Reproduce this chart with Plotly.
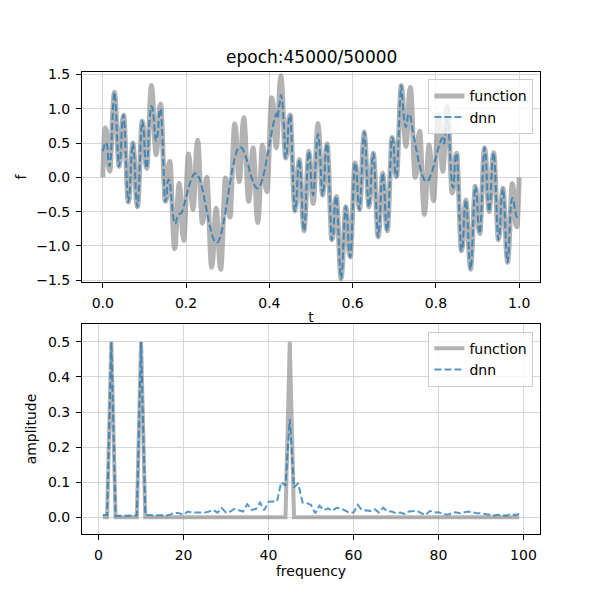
"""
Training snapshot of a DNN fitting a three-tone signal: time domain and spectrum.
"""

import plotly.graph_objects as go

TITLE = "epoch:45000/50000"

# time domain, sampled every 1/360 of the unit interval, t = 0 ... 1
T_START = 0.0
T_STEP = 1 / 360

f_function = [
    0.00, 0.47, 0.72, 0.68, 0.43, 0.16, 0.09, 0.30, 0.70, 1.08,
    1.24, 1.10, 0.73, 0.34, 0.16, 0.25, 0.54, 0.83, 0.91, 0.69,
    0.26, -0.16, -0.36, -0.27, 0.04, 0.37, 0.50, 0.35, 0.01, -0.33,
    -0.43, -0.24, 0.18, 0.60, 0.82, 0.75, 0.48, 0.20, 0.13, 0.34,
    0.75, 1.16, 1.34, 1.21, 0.86, 0.50, 0.33, 0.43, 0.73, 1.01,
    1.07, 0.83, 0.37, -0.09, -0.35, -0.31, -0.07, 0.18, 0.23, 0.00,
    -0.43, -0.85, -1.04, -0.93, -0.60, -0.25, -0.09, -0.21, -0.52, -0.83,
    -0.92, -0.71, -0.29, 0.13, 0.34, 0.25, -0.05, -0.36, -0.47, -0.30,
    0.06, 0.41, 0.54, 0.36, -0.04, -0.45, -0.67, -0.60, -0.33, -0.06,
    0.00, -0.23, -0.67, -1.10, -1.31, -1.22, -0.91, -0.58, -0.45, -0.59,
    -0.93, -1.24, -1.34, -1.13, -0.69, -0.25, -0.01, -0.05, -0.29, -0.54,
    -0.58, -0.33, 0.12, 0.56, 0.78, 0.70, 0.39, 0.07, -0.06, 0.09,
    0.43, 0.76, 0.87, 0.68, 0.28, -0.14, -0.35, -0.26, 0.03, 0.33,
    0.43, 0.24, -0.14, -0.51, -0.66, -0.50, -0.12, 0.27, 0.47, 0.39,
    0.11, -0.16, -0.21, 0.03, 0.48, 0.92, 1.16, 1.10, 0.82, 0.53,
    0.43, 0.62, 0.99, 1.35, 1.48, 1.31, 0.91, 0.50, 0.28, 0.34,
    0.60, 0.86, 0.91, 0.66, 0.20, -0.25, -0.49, -0.42, -0.14, 0.16,
    0.26, 0.08, -0.29, -0.65, -0.78, -0.61, -0.22, 0.18, 0.38, 0.29,
    0.00, -0.29, -0.38, -0.18, 0.22, 0.61, 0.78, 0.65, 0.29, -0.08,
    -0.26, -0.16, 0.14, 0.42, 0.49, 0.25, -0.20, -0.66, -0.91, -0.86,
    -0.60, -0.34, -0.28, -0.50, -0.91, -1.31, -1.48, -1.35, -0.99, -0.62,
    -0.43, -0.53, -0.82, -1.10, -1.16, -0.92, -0.48, -0.03, 0.21, 0.16,
    -0.11, -0.39, -0.47, -0.27, 0.12, 0.50, 0.66, 0.51, 0.14, -0.24,
    -0.43, -0.33, -0.03, 0.26, 0.35, 0.14, -0.28, -0.68, -0.87, -0.76,
    -0.43, -0.09, 0.06, -0.07, -0.39, -0.70, -0.78, -0.56, -0.12, 0.33,
    0.58, 0.54, 0.29, 0.05, 0.01, 0.25, 0.69, 1.13, 1.34, 1.24,
    0.93, 0.59, 0.45, 0.58, 0.91, 1.22, 1.31, 1.10, 0.67, 0.23,
    0.00, 0.06, 0.33, 0.60, 0.67, 0.45, 0.04, -0.36, -0.54, -0.41,
    -0.06, 0.30, 0.47, 0.36, 0.05, -0.25, -0.34, -0.13, 0.29, 0.71,
    0.92, 0.83, 0.52, 0.21, 0.09, 0.25, 0.60, 0.93, 1.04, 0.85,
    0.43, 0.00, -0.23, -0.18, 0.07, 0.31, 0.35, 0.09, -0.37, -0.83,
    -1.07, -1.01, -0.73, -0.43, -0.33, -0.50, -0.86, -1.21, -1.34, -1.16,
    -0.75, -0.34, -0.13, -0.20, -0.48, -0.75, -0.82, -0.60, -0.18, 0.24,
    0.43, 0.33, -0.01, -0.35, -0.50, -0.37, -0.04, 0.27, 0.36, 0.16,
    -0.26, -0.69, -0.91, -0.83, -0.54, -0.25, -0.16, -0.34, -0.73, -1.10,
    -1.24, -1.08, -0.70, -0.30, -0.09, -0.16, -0.43, -0.68, -0.72, -0.47,
    0.00,
]

f_dnn = [
    0.38, 0.44, 0.50, 0.50, 0.43, 0.21, 0.16, 0.32, 0.70, 1.08,
    1.24, 1.10, 0.73, 0.34, 0.16, 0.25, 0.54, 0.83, 0.91, 0.69,
    0.26, -0.16, -0.36, -0.27, 0.04, 0.37, 0.50, 0.35, 0.01, -0.33,
    -0.43, -0.24, 0.18, 0.60, 0.82, 0.75, 0.48, 0.20, 0.13, 0.34,
    0.75, 0.94, 1.04, 1.00, 0.86, 0.64, 0.53, 0.58, 0.73, 0.96,
    1.00, 0.78, 0.37, -0.09, -0.35, -0.31, -0.07, -0.03, -0.07, -0.25,
    -0.43, -0.59, -0.67, -0.67, -0.60, -0.56, -0.54, -0.53, -0.52, -0.48,
    -0.42, -0.36, -0.29, -0.23, -0.16, -0.10, -0.05, -0.01, 0.03, 0.05,
    0.06, 0.05, 0.04, 0.00, -0.04, -0.10, -0.17, -0.24, -0.33, -0.41,
    -0.50, -0.59, -0.67, -0.74, -0.81, -0.87, -0.91, -0.94, -0.95, -0.95,
    -0.93, -0.89, -0.84, -0.77, -0.69, -0.60, -0.51, -0.40, -0.29, -0.19,
    -0.08, 0.02, 0.12, 0.20, 0.28, 0.34, 0.39, 0.42, 0.44, 0.44,
    0.43, 0.41, 0.37, 0.33, 0.28, 0.22, 0.16, 0.09, 0.03, -0.02,
    -0.07, -0.11, -0.14, -0.16, -0.16, -0.15, -0.12, -0.08, -0.03, 0.04,
    0.11, 0.20, 0.29, 0.38, 0.48, 0.57, 0.66, 0.74, 0.82, 0.88,
    0.93, 0.86, 0.99, 1.10, 1.20, 1.13, 0.91, 0.58, 0.28, 0.34,
    0.60, 0.86, 0.91, 0.66, 0.20, -0.25, -0.49, -0.42, -0.14, 0.16,
    0.26, 0.08, -0.29, -0.65, -0.78, -0.61, -0.22, 0.18, 0.38, 0.29,
    0.00, -0.21, -0.26, -0.10, 0.22, 0.50, 0.63, 0.54, 0.29, -0.08,
    -0.26, -0.16, 0.14, 0.42, 0.49, 0.25, -0.20, -0.66, -0.91, -0.86,
    -0.60, -0.34, -0.28, -0.50, -0.91, -1.31, -1.48, -1.35, -0.99, -0.62,
    -0.43, -0.53, -0.82, -1.10, -1.16, -0.92, -0.48, -0.03, 0.21, 0.16,
    -0.11, -0.39, -0.47, -0.27, 0.12, 0.50, 0.66, 0.51, 0.14, -0.24,
    -0.43, -0.33, -0.03, 0.26, 0.35, 0.14, -0.28, -0.68, -0.87, -0.76,
    -0.43, -0.09, 0.06, -0.07, -0.39, -0.70, -0.78, -0.56, -0.12, 0.33,
    0.58, 0.54, 0.29, 0.05, 0.01, 0.25, 0.69, 1.13, 1.34, 1.17,
    0.93, 0.79, 0.73, 0.78, 0.91, 0.92, 0.89, 0.79, 0.67, 0.59,
    0.50, 0.41, 0.33, 0.24, 0.17, 0.10, 0.04, 0.00, -0.04, -0.05,
    -0.06, -0.05, -0.03, 0.01, 0.05, 0.10, 0.16, 0.23, 0.29, 0.36,
    0.42, 0.48, 0.52, 0.56, 0.57, 0.49, 0.60, 0.79, 0.84, 0.71,
    0.43, 0.10, -0.11, -0.15, 0.07, 0.31, 0.35, 0.09, -0.37, -0.83,
    -1.07, -1.01, -0.73, -0.43, -0.33, -0.50, -0.86, -1.21, -1.34, -1.16,
    -0.75, -0.34, -0.13, -0.20, -0.48, -0.75, -0.82, -0.60, -0.18, 0.24,
    0.43, 0.33, -0.01, -0.35, -0.50, -0.37, -0.04, 0.27, 0.36, 0.16,
    -0.26, -0.69, -0.91, -0.83, -0.54, -0.25, -0.16, -0.34, -0.73, -1.10,
    -1.24, -1.08, -0.66, -0.38, -0.30, -0.33, -0.43, -0.53, -0.58, -0.57,
    -0.53,
]

# spectrum, frequencies 1 ... 99
FREQ_START = 1
FREQ_STEP = 1

amp_function = [
    0, 0, 0.5, 0, 0, 0, 0, 0, 0, 0.5,
    0, 0, 0, 0, 0, 0, 0, 0, 0, 0,
    0, 0, 0, 0, 0, 0, 0, 0, 0, 0,
    0, 0, 0, 0, 0, 0, 0, 0, 0, 0,
    0, 0, 0, 0, 0.5, 0, 0, 0, 0, 0,
    0, 0, 0, 0, 0, 0, 0, 0, 0, 0,
    0, 0, 0, 0, 0, 0, 0, 0, 0, 0,
    0, 0, 0, 0, 0, 0, 0, 0, 0, 0,
    0, 0, 0, 0, 0, 0, 0, 0, 0, 0,
    0, 0, 0, 0, 0, 0, 0, 0, 0,
]

amp_dnn = [
    0.006, 0.007, 0.500, 0.004, 0.004, 0.004, 0.004, 0.004, 0.005, 0.500,
    0.006, 0.006, 0.006, 0.005, 0.006, 0.005, 0.008, 0.013, 0.011, 0.007,
    0.016, 0.013, 0.013, 0.012, 0.013, 0.016, 0.020, 0.013, 0.026, 0.013,
    0.016, 0.024, 0.021, 0.016, 0.037, 0.021, 0.023, 0.042, 0.020, 0.044,
    0.045, 0.045, 0.100, 0.090, 0.280, 0.085, 0.097, 0.042, 0.040, 0.035,
    0.011, 0.033, 0.020, 0.025, 0.018, 0.027, 0.025, 0.018, 0.013, 0.013,
    0.035, 0.020, 0.018, 0.018, 0.023, 0.013, 0.027, 0.016, 0.016, 0.011,
    0.013, 0.009, 0.016, 0.018, 0.018, 0.011, 0.006, 0.018, 0.013, 0.014,
    0.011, 0.007, 0.010, 0.014, 0.011, 0.013, 0.016, 0.014, 0.011, 0.011,
    0.008, 0.007, 0.005, 0.007, 0.006, 0.004, 0.009, 0.006, 0.009,
]

t_ticks = [0.0, 0.2, 0.4, 0.6, 0.8, 1.0]
t_tick_labels = ["0.0", "0.2", "0.4", "0.6", "0.8", "1.0"]
f_ticks = [-1.5, -1.0, -0.5, 0.0, 0.5, 1.0, 1.5]
f_tick_labels = ["\u22121.5", "\u22121.0", "\u22120.5", "0.0", "0.5", "1.0", "1.5"]
freq_ticks = [0, 20, 40, 60, 80, 100]
freq_tick_labels = ["0", "20", "40", "60", "80", "100"]
amp_ticks = [0.0, 0.1, 0.2, 0.3, 0.4, 0.5]
amp_tick_labels = ["0.0", "0.1", "0.2", "0.3", "0.4", "0.5"]

GRAY = "rgba(128,128,128,0.6)"
BLUE = "rgba(31,119,180,0.75)"
FONT = "DejaVu Sans"


def axis_style(**kwargs):
    style = dict(
        showline=True, linecolor="black", linewidth=1, mirror=True,
        ticks="outside", ticklen=5, tickwidth=1, tickcolor="black",
        showgrid=True, gridcolor="#d6d6d6", gridwidth=1, zeroline=False,
        tickfont=dict(family=FONT, size=14, color="black"),
        ticklabelstandoff=3,
    )
    style.update(kwargs)
    return style


fig = go.Figure()

fig.add_trace(go.Scatter(x0=T_START, dx=T_STEP, y=f_function, mode="lines", name="function",
                         line=dict(color=GRAY, width=5, shape="spline"),
                         xaxis="x", yaxis="y", legend="legend"))
fig.add_trace(go.Scatter(x0=T_START, dx=T_STEP, y=f_dnn, mode="lines", name="dnn",
                         line=dict(color=BLUE, width=2, dash="7px,3px", shape="spline"),
                         xaxis="x", yaxis="y", legend="legend"))
fig.add_trace(go.Scatter(x0=FREQ_START, dx=FREQ_STEP, y=amp_function, mode="lines", name="function",
                         line=dict(color=GRAY, width=4), xaxis="x2", yaxis="y2", legend="legend2"))
fig.add_trace(go.Scatter(x0=FREQ_START, dx=FREQ_STEP, y=amp_dnn, mode="lines", name="dnn",
                         line=dict(color=BLUE, width=2, dash="7px,3px"),
                         xaxis="x2", yaxis="y2", legend="legend2"))

legend_style = dict(xanchor="right", yanchor="top", bgcolor="rgba(255,255,255,0.8)",
                    bordercolor="#cccccc", borderwidth=1, itemwidth=30,
                    font=dict(family=FONT, size=14, color="black"))

# the page body adds an 8 px offset, so the figure is 592 px and the margins are trimmed by 8
fig.update_layout(
    width=592, height=592, autosize=False,
    margin=dict(l=67, r=60, t=64, b=66),
    paper_bgcolor="white", plot_bgcolor="white",
    font=dict(family=FONT, size=14, color="black"),
    xaxis=axis_style(domain=[0, 1], anchor="y", range=[-0.05, 1.05],
                     tickvals=t_ticks, ticktext=t_tick_labels,
                     title=dict(text="t", standoff=2, font=dict(family=FONT, size=14))),
    yaxis=axis_style(domain=[0.5455, 1], anchor="x", range=[-1.525, 1.535],
                     tickvals=f_ticks, ticktext=f_tick_labels,
                     title=dict(text="f", standoff=6, font=dict(family=FONT, size=14))),
    xaxis2=axis_style(domain=[0, 1], anchor="y2", range=[-3.9, 103.9],
                      tickvals=freq_ticks, ticktext=freq_tick_labels,
                      title=dict(text="frequency", standoff=4, font=dict(family=FONT, size=14))),
    yaxis2=axis_style(domain=[0, 0.4545], anchor="x2", range=[-0.048, 0.551],
                      tickvals=amp_ticks, ticktext=amp_tick_labels,
                      title=dict(text="amplitude", standoff=8, font=dict(family=FONT, size=14))),
    legend=dict(x=0.9856, y=0.9842, **legend_style),
    legend2=dict(x=0.9856, y=0.4379, **legend_style),
    annotations=[dict(text=TITLE, x=0.5, y=1, xref="paper", yref="paper",
                      xanchor="center", yanchor="bottom", yshift=3, showarrow=False,
                      font=dict(family=FONT, size=17, color="black"))],
)

fig.write_html("out.html")
